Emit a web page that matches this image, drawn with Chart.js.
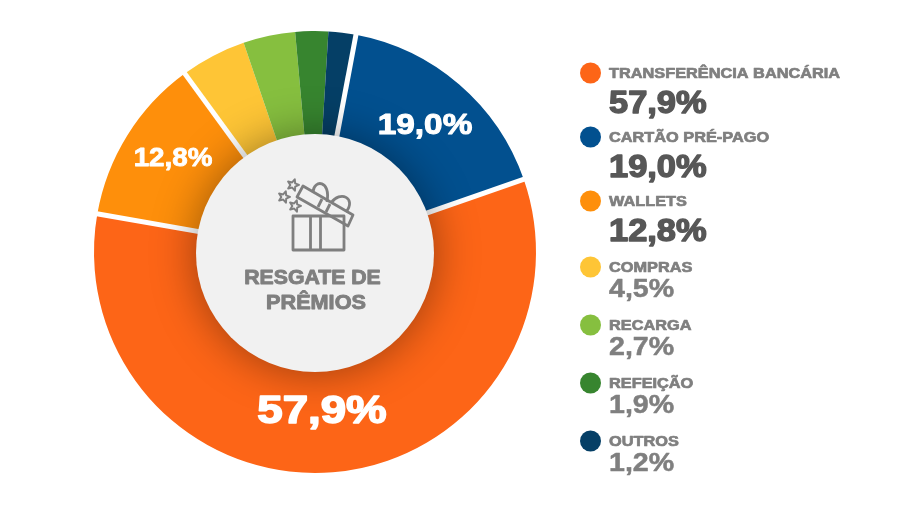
<!DOCTYPE html>
<html>
<head>
<meta charset="utf-8">
<style>
  html, body { margin: 0; padding: 0; background: #fff; }
  canvas { display: block; }
</style>
<script src="https://cdn.jsdelivr.net/npm/chart.js@4"></script>
</head>
<body>
<canvas id="chart" width="906" height="509"></canvas>
<script>
// clockwise order, starting at the orange slice
const categories = ['TRANSFERÊNCIA BANCÁRIA', 'WALLETS', 'COMPRAS', 'RECARGA', 'REFEIÇÃO', 'OUTROS', 'CARTÃO PRÉ-PAGO'];
const printedValues = ['57,9%', '12,8%', '4,5%', '2,7%', '1,9%', '1,2%', '19,0%'];
// share of the ring as drawn in the picture (not quite the printed figures)
const drawnShares = [58.1, 12.2, 4.8, 3.8, 2.4, 2.0, 16.7];
const colors = ['#FD6517', '#FE8F0B', '#FEC536', '#86BF3F', '#37852F', '#053F66', '#02508F'];
const legendOrder = [0, 6, 1, 2, 3, 4, 5];
const legendRows = [73, 137, 201, 267, 325, 383, 441];
const whiteGapsAfter = [0, 1, 5, 6];

const GREY = '#7f7f7f';
const DARK = '#575757';
const FONT = '"Liberation Sans", Arial, sans-serif';

// heavy, slightly wide text; stretch gets it closer to the original typeface
function label(ctx, text, x, y, size, color, stretch, align, heavy) {
  ctx.save();
  ctx.translate(x, y + size * 0.07);
  ctx.scale(stretch, 1);
  ctx.font = 'bold ' + size + 'px ' + FONT;
  ctx.textAlign = align || 'left';
  ctx.textBaseline = 'middle';
  ctx.fillStyle = color;
  ctx.strokeStyle = color;
  ctx.lineWidth = heavy;
  ctx.lineJoin = 'round';
  if (heavy) ctx.strokeText(text, 0, 0);
  ctx.fillText(text, 0, 0);
  ctx.restore();
}

function star(ctx, cx, cy, r) {
  ctx.beginPath();
  for (let i = 0; i < 10; i++) {
    const a = -Math.PI / 2 + 0.3 + i * Math.PI / 5;
    const d = i % 2 ? r * 0.45 : r;
    ctx.lineTo(cx + Math.cos(a) * d, cy + Math.sin(a) * d);
  }
  ctx.closePath();
  ctx.stroke();
}

function giftIcon(ctx) {
  ctx.save();
  ctx.strokeStyle = GREY;
  ctx.lineWidth = 2.8;
  ctx.lineJoin = 'round';
  ctx.strokeRect(293, 216, 51, 34);
  ctx.beginPath();
  ctx.moveTo(310.5, 216); ctx.lineTo(310.5, 250);
  ctx.moveTo(320.5, 216); ctx.lineTo(320.5, 250);
  ctx.stroke();
  // lid
  ctx.beginPath();
  ctx.moveTo(303, 186); ctx.lineTo(353, 215); ctx.lineTo(348, 226); ctx.lineTo(297, 197);
  ctx.closePath();
  ctx.stroke();
  ctx.beginPath();
  ctx.moveTo(322, 199); ctx.lineTo(318, 207);
  ctx.moveTo(330, 204); ctx.lineTo(326, 212);
  ctx.stroke();
  // bow
  ctx.beginPath();
  ctx.moveTo(313, 192);
  ctx.bezierCurveTo(314, 179, 331, 180, 327, 202);
  ctx.moveTo(331, 203);
  ctx.bezierCurveTo(340, 190, 357, 198, 346, 212);
  ctx.stroke();
  ctx.lineWidth = 2;
  star(ctx, 293, 185, 6);
  star(ctx, 284, 197, 6);
  star(ctx, 295, 206, 6);
  ctx.restore();
}

const decorations = {
  id: 'decorations',
  afterDatasetsDraw(chart) {
    const ctx = chart.ctx;
    const arcs = chart.getDatasetMeta(0).data;

    // white separators, only between some of the slices
    ctx.save();
    ctx.strokeStyle = '#fff';
    ctx.lineWidth = 5;
    whiteGapsAfter.forEach(i => {
      const arc = arcs[i];
      const a = arc.endAngle;
      ctx.beginPath();
      ctx.moveTo(arc.x + Math.cos(a) * arc.innerRadius, arc.y + Math.sin(a) * arc.innerRadius);
      ctx.lineTo(arc.x + Math.cos(a) * (arc.outerRadius + 2), arc.y + Math.sin(a) * (arc.outerRadius + 2));
      ctx.stroke();
    });
    ctx.restore();

    // centre disc with its soft shadow over the ring
    ctx.save();
    ctx.shadowColor = 'rgba(0,0,0,0.4)';
    ctx.shadowBlur = 45;
    ctx.fillStyle = '#f1f1f1';
    ctx.beginPath();
    ctx.arc(315, 253, 119, 0, Math.PI * 2);
    ctx.fill();
    ctx.restore();

    giftIcon(ctx);
    label(ctx, 'RESGATE DE', 312.5, 277, 19.5, GREY, 1.09, 'center', 0.9);
    label(ctx, 'PRÊMIOS', 316, 302, 19.5, GREY, 1.11, 'center', 0.9);

    // values on the three biggest slices
    label(ctx, printedValues[0], 322, 410, 38, '#fff', 1.2, 'center', 1.6);
    label(ctx, printedValues[6], 425, 124, 29, '#fff', 1.15, 'center', 1);
    label(ctx, printedValues[1], 173, 157, 25, '#fff', 1.11, 'center', 0.8);

    // legend
    legendOrder.forEach((idx, row) => {
      const y = legendRows[row];
      ctx.fillStyle = colors[idx];
      ctx.beginPath();
      ctx.arc(590.5, y, 10.5, 0, Math.PI * 2);
      ctx.fill();
      label(ctx, categories[idx], 609, y, 14.5, GREY, 1.125, 'left', 0.7);
      if (row < 3) label(ctx, printedValues[idx], 609, y + 29, 31, DARK, 1.11, 'left', 1.4);
      else label(ctx, printedValues[idx], 609, y + 21, 26, GREY, 1.1, 'left', 0.5);
    });
  }
};

new Chart(document.getElementById('chart'), {
  type: 'doughnut',
  data: {
    labels: categories,
    datasets: [{
      data: drawnShares,
      backgroundColor: colors,
      borderWidth: 0
    }]
  },
  options: {
    responsive: false,
    animation: false,
    rotation: 70.8,
    cutout: '50%',
    layout: { padding: { left: 94, right: 370, top: 31, bottom: 36 } },
    plugins: { legend: { display: false }, tooltip: { enabled: false } }
  },
  plugins: [decorations]
});
</script>
</body>
</html>
